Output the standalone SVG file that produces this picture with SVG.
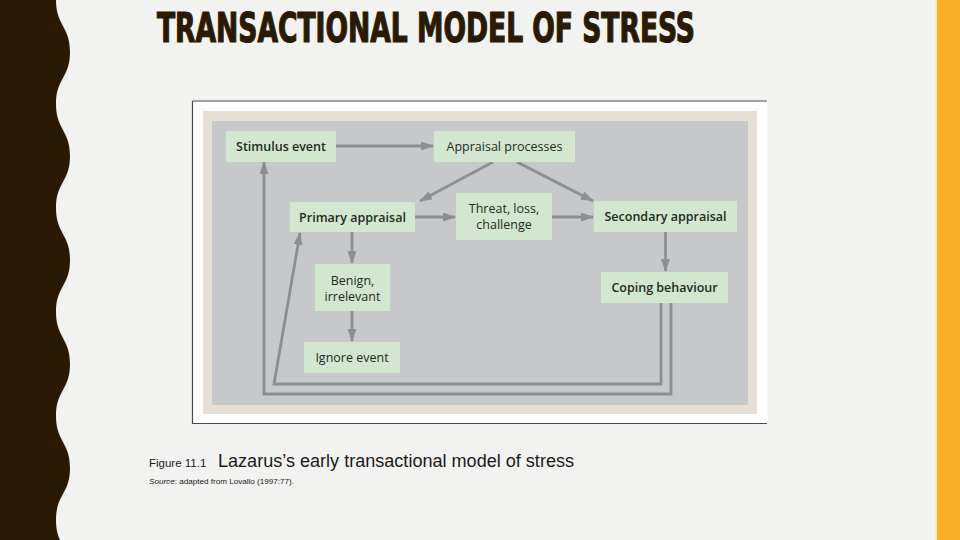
<svg xmlns="http://www.w3.org/2000/svg" width="960" height="540" viewBox="0 0 960 540">
<defs>
<style>
.node rect{fill:#d3e7d0}
.node text{font-family:"Open Sans","Noto Sans",sans-serif;font-size:12.5px;fill:#1f2a22;text-anchor:middle}
.node .b{font-weight:600}
.conn path{fill:none;stroke:#8d8e91;stroke-width:2.8;stroke-linejoin:miter}
</style>
<marker id="ah" markerUnits="userSpaceOnUse" markerWidth="13" markerHeight="10" refX="12" refY="4.5" orient="auto">
<path d="M0,0 L13,4.5 L0,9 Z" fill="#8d8e91"/>
</marker>
</defs>
<rect x="0" y="0" width="960" height="540" fill="#f2f2f0"/>
<path d="M0,0 L56,0 C56,26 70,26 70,52 C70,78 56,78 56,104 C56,130 70,130 70,156 C70,182 56,182 56,208 C56,234 70,234 70,260 C70,286 56,286 56,312 C56,338 70,338 70,364 C70,390 56,390 56,416 C56,442 70,442 70,468 C70,494 56,494 56,520 C56,546 70,546 70,572 L0,572 Z" fill="#2a1a04"/>
<rect x="935" y="0" width="2" height="540" fill="#fbeac0"/>
<rect x="937" y="0" width="23" height="540" fill="#f7b228"/>
<text x="157" y="42" font-family="'DejaVu Sans Condensed','DejaVu Sans',sans-serif" font-weight="bold" font-size="40" fill="#2a1a04" stroke="#2a1a04" stroke-width="1.2" textLength="538" lengthAdjust="spacingAndGlyphs">TRANSACTIONAL MODEL OF STRESS</text>
<g id="figure">
<rect x="192.5" y="101" width="575" height="323" fill="#ffffff"/>
<path d="M192.5,101 L767,101 M192.5,101 L192.5,423.5 L767,423.5" fill="none" stroke="#4a4a4a" stroke-width="1.2"/>
<rect x="203" y="111" width="554" height="303" fill="#e5dfd6"/>
<rect x="212" y="121" width="536" height="284" fill="#c7c8ca"/>
</g>
<g class="conn" id="connectors">
<path d="M336,146 L433,146" marker-end="url(#ah)"/>
<path d="M493,162 L420,201" marker-end="url(#ah)"/>
<path d="M517,162 L593,201" marker-end="url(#ah)"/>
<path d="M415,217 L455,217" marker-end="url(#ah)"/>
<path d="M552,217 L593,217" marker-end="url(#ah)"/>
<path d="M352,232 L352,263" marker-end="url(#ah)"/>
<path d="M352,311 L352,341" marker-end="url(#ah)"/>
<path d="M665.5,232 L665.5,271" marker-end="url(#ah)"/>
<path d="M661,303 L661,384 L274,384 L300,233" marker-end="url(#ah)"/>
<path d="M671,303 L671,394 L264,394 L264,162" marker-end="url(#ah)"/>
</g>
<g class="node" id="stimulus-event"><rect x="226" y="131" width="110" height="31"/><text class="b" x="281" y="151">Stimulus event</text></g>
<g class="node" id="appraisal-processes"><rect x="434" y="131" width="141" height="31"/><text x="504.5" y="151">Appraisal processes</text></g>
<g class="node" id="primary-appraisal"><rect x="290" y="202" width="125" height="30"/><text class="b" x="352.5" y="221.5">Primary appraisal</text></g>
<g class="node" id="threat"><rect x="456" y="193" width="96" height="47"/><text x="504" y="213">Threat, loss,</text><text x="504" y="229">challenge</text></g>
<g class="node" id="secondary-appraisal"><rect x="594" y="201" width="143" height="31"/><text class="b" x="665.5" y="221">Secondary appraisal</text></g>
<g class="node" id="benign"><rect x="315" y="264" width="75" height="47"/><text x="352.5" y="285">Benign,</text><text x="352.5" y="300.5">irrelevant</text></g>
<g class="node" id="ignore-event"><rect x="304" y="342" width="96" height="31"/><text x="352" y="362">Ignore event</text></g>
<g class="node" id="coping-behaviour"><rect x="601" y="272" width="127" height="31"/><text class="b" x="664.5" y="292">Coping behaviour</text></g>
<text x="149" y="467" font-family="'Liberation Sans',Arial,sans-serif" font-size="11.5" fill="#1a1a1a">Figure 11.1</text>
<text x="218" y="467" font-family="'Liberation Sans',Arial,sans-serif" font-size="17.5" fill="#1a1a1a" textLength="356" lengthAdjust="spacingAndGlyphs">Lazarus’s early transactional model of stress</text>
<text x="149" y="484" font-family="'Liberation Sans',Arial,sans-serif" font-size="7.8" fill="#1a1a1a" textLength="145" lengthAdjust="spacingAndGlyphs"><tspan font-style="italic">Source</tspan>: adapted from Lovallo (1997:77).</text>
</svg>
